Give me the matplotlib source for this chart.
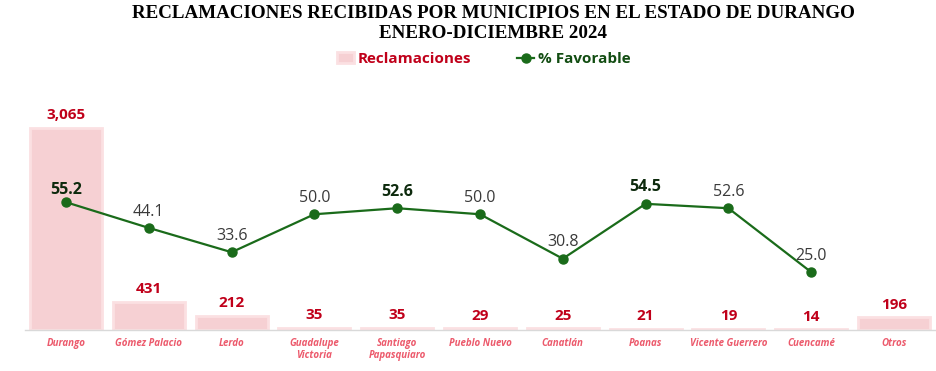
import matplotlib
matplotlib.use("Agg")
import matplotlib.pyplot as plt
import numpy as np

categories = ["Durango", "Gómez Palacio", "Lerdo", "Guadalupe\nVictoria", "Santiago\nPapasquiaro",
              "Pueblo Nuevo", "Canatlán", "Poanas", "Vicente Guerrero", "Cuencamé", "Otros"]
reclamaciones = [3065, 431, 212, 35, 35, 29, 25, 21, 19, 14, 196]
favorable = [55.2, 44.1, 33.6, 50.0, 52.6, 50.0, 30.8, 54.5, 52.6, 25.0]
bold_fav = [True, False, False, False, True, False, False, True, False, False]

W, H = 937, 371
fig = plt.figure(figsize=(W / 100, H / 100), dpi=100)
left_px, right_px = 24.6, 935.4
top_px, base_px = 100, 330
ax = fig.add_axes([left_px / W, (H - base_px) / H, (right_px - left_px) / W, (base_px - top_px) / H])
ax2 = ax.twinx()

x = np.arange(len(categories))
bars = ax.bar(x, reclamaciones, width=0.87, color="#f6d0d3", edgecolor="#fbe0e2",
              linewidth=2, label="Reclamaciones", zorder=2)
ax.set_xlim(-0.5, len(categories) - 0.5)
ax.set_ylim(0, 3490)
ax2.set_ylim(0, 99.35)

for a in (ax, ax2):
    for s in a.spines.values():
        s.set_visible(False)
    a.set_yticks([])
ax.spines["bottom"].set_visible(True)
ax.spines["bottom"].set_color("#d9d9d9")
ax.spines["bottom"].set_linewidth(1)

ax.set_xticks(x)
ax.set_xticklabels(categories, fontsize=7, fontweight="bold", fontstyle="italic",
                   color="#ec5a6c", family="Open Sans", linespacing=1.1)
ax.tick_params(axis="x", length=0, pad=6)

for xi, v in zip(x, reclamaciones):
    ax.annotate(f"{v:,}", (xi, v), xytext=(0, 4), textcoords="offset points",
                ha="center", va="bottom", fontsize=11, fontweight="bold",
                color="#c0001a", family="Open Sans")

xl = x[:len(favorable)]
line, = ax2.plot(xl, favorable, color="#1a6b1a", linewidth=1.6, marker="o",
                 markersize=6.5, label="% Favorable", zorder=3)
for xi, v, b in zip(xl, favorable, bold_fav):
    ax2.annotate(f"{v:.1f}", (xi, v), xytext=(0, 6 if not (b and xi == 0) else 3),
                 textcoords="offset points", ha="center", va="bottom",
                 fontsize=11.5, fontweight="bold" if b else "normal",
                 color="#0d2a0d" if b else "#3a3a3a", family="Open Sans")

fig.text(493 / W, 1 - 17.5 / H, "RECLAMACIONES RECIBIDAS POR MUNICIPIOS EN EL ESTADO DE DURANGO",
         ha="center", va="baseline", fontsize=13.7, fontweight="bold", family="Liberation Serif")
fig.text(493 / W, 1 - 38 / H, "ENERO-DICIEMBRE 2024",
         ha="center", va="baseline", fontsize=13.7, fontweight="bold", family="Liberation Serif")

leg = fig.legend(handles=[bars, line], loc="center", bbox_to_anchor=(484 / W, 1 - 59 / H),
                 ncol=2, frameon=False, prop={"family": "Open Sans", "weight": "bold", "size": 11},
                 labelcolor=["#c0001a", "#124d12"], handlelength=1.1, handletextpad=0.25,
                 columnspacing=3.0)

fig.savefig("out.png", dpi=100, facecolor="white")
